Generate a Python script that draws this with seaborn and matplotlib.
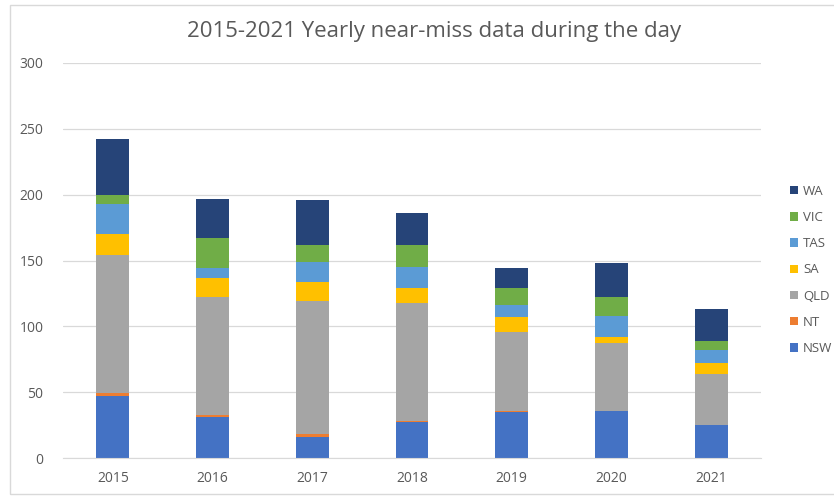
import matplotlib
matplotlib.use("Agg")
import matplotlib.pyplot as plt
import matplotlib.patches as patches
import seaborn as sns
import pandas as pd

# Yearly near-miss counts per state
years = ['2015', '2016', '2017', '2018', '2019', '2020', '2021']
nsw = [47, 31, 16, 27, 35, 36, 25]
nt = [2, 2, 2, 1, 1, 0, 0]
qld = [105, 89, 101, 90, 60, 51, 39]
sa = [16, 15, 15, 11, 11, 5, 8]
tas = [23, 7, 15, 16, 9, 16, 10]
vic = [7, 23, 13, 17, 13, 14, 7]
wa = [42, 30, 34, 24, 15, 26, 24]

states = ['NSW', 'NT', 'QLD', 'SA', 'TAS', 'VIC', 'WA']
colors = {'NSW': '#4472C4', 'NT': '#ED7D31', 'QLD': '#A5A5A5', 'SA': '#FFC000',
          'TAS': '#5B9BD5', 'VIC': '#70AD47', 'WA': '#264478'}

df = pd.DataFrame({'NSW': nsw, 'NT': nt, 'QLD': qld, 'SA': sa,
                   'TAS': tas, 'VIC': vic, 'WA': wa}, index=years)
cum = df.cumsum(axis=1)

sns.set_style('white')
plt.rcParams['font.family'] = ['Open Sans', 'DejaVu Sans']
text_color = '#595959'

fig = plt.figure(figsize=(8.34, 4.96), dpi=100)
ax = fig.add_axes([63 / 834, 38 / 496, 698 / 834, 395 / 496])

# stacked bars: draw cumulative totals from the top layer down
for state in states[::-1]:
    sns.barplot(x=years, y=cum[state].values, order=years, color=colors[state],
                width=0.33, saturation=1, label=state, linewidth=0, ax=ax)

ax.set_ylim(0, 300)
ax.set_xlim(-0.5, 6.5)
ax.set_yticks(range(0, 301, 50))
ax.yaxis.grid(True, color='#D9D9D9', linewidth=0.9)
ax.set_axisbelow(True)
for side in ['left', 'right', 'top']:
    ax.spines[side].set_visible(False)
ax.spines['bottom'].set_color('#D9D9D9')
ax.tick_params(axis='y', length=0, pad=14, labelsize=10, labelcolor=text_color)
ax.tick_params(axis='x', length=0, pad=9, labelsize=10, labelcolor=text_color)
ax.set_xlabel('')
ax.set_ylabel('')

fig.text(0.52, 1 - 32 / 496, '2015-2021 Yearly near-miss data during the day',
         ha='center', va='center', fontsize=16, color=text_color)

leg = ax.legend(loc='center left', bbox_to_anchor=(778 / 834, 1 - 270 / 496),
                bbox_transform=fig.transFigure, frameon=False, fontsize=9.5,
                handlelength=0.6, handleheight=0.6, handletextpad=0.4,
                labelspacing=1.0)
for t in leg.get_texts():
    t.set_color(text_color)

# light chart border
fig.patches.append(patches.Rectangle((10 / 834, 2 / 496), 900 / 834, 489 / 496,
                                     transform=fig.transFigure, fill=False,
                                     edgecolor='#D9D9D9', linewidth=1))

fig.savefig('out.png', dpi=100)
